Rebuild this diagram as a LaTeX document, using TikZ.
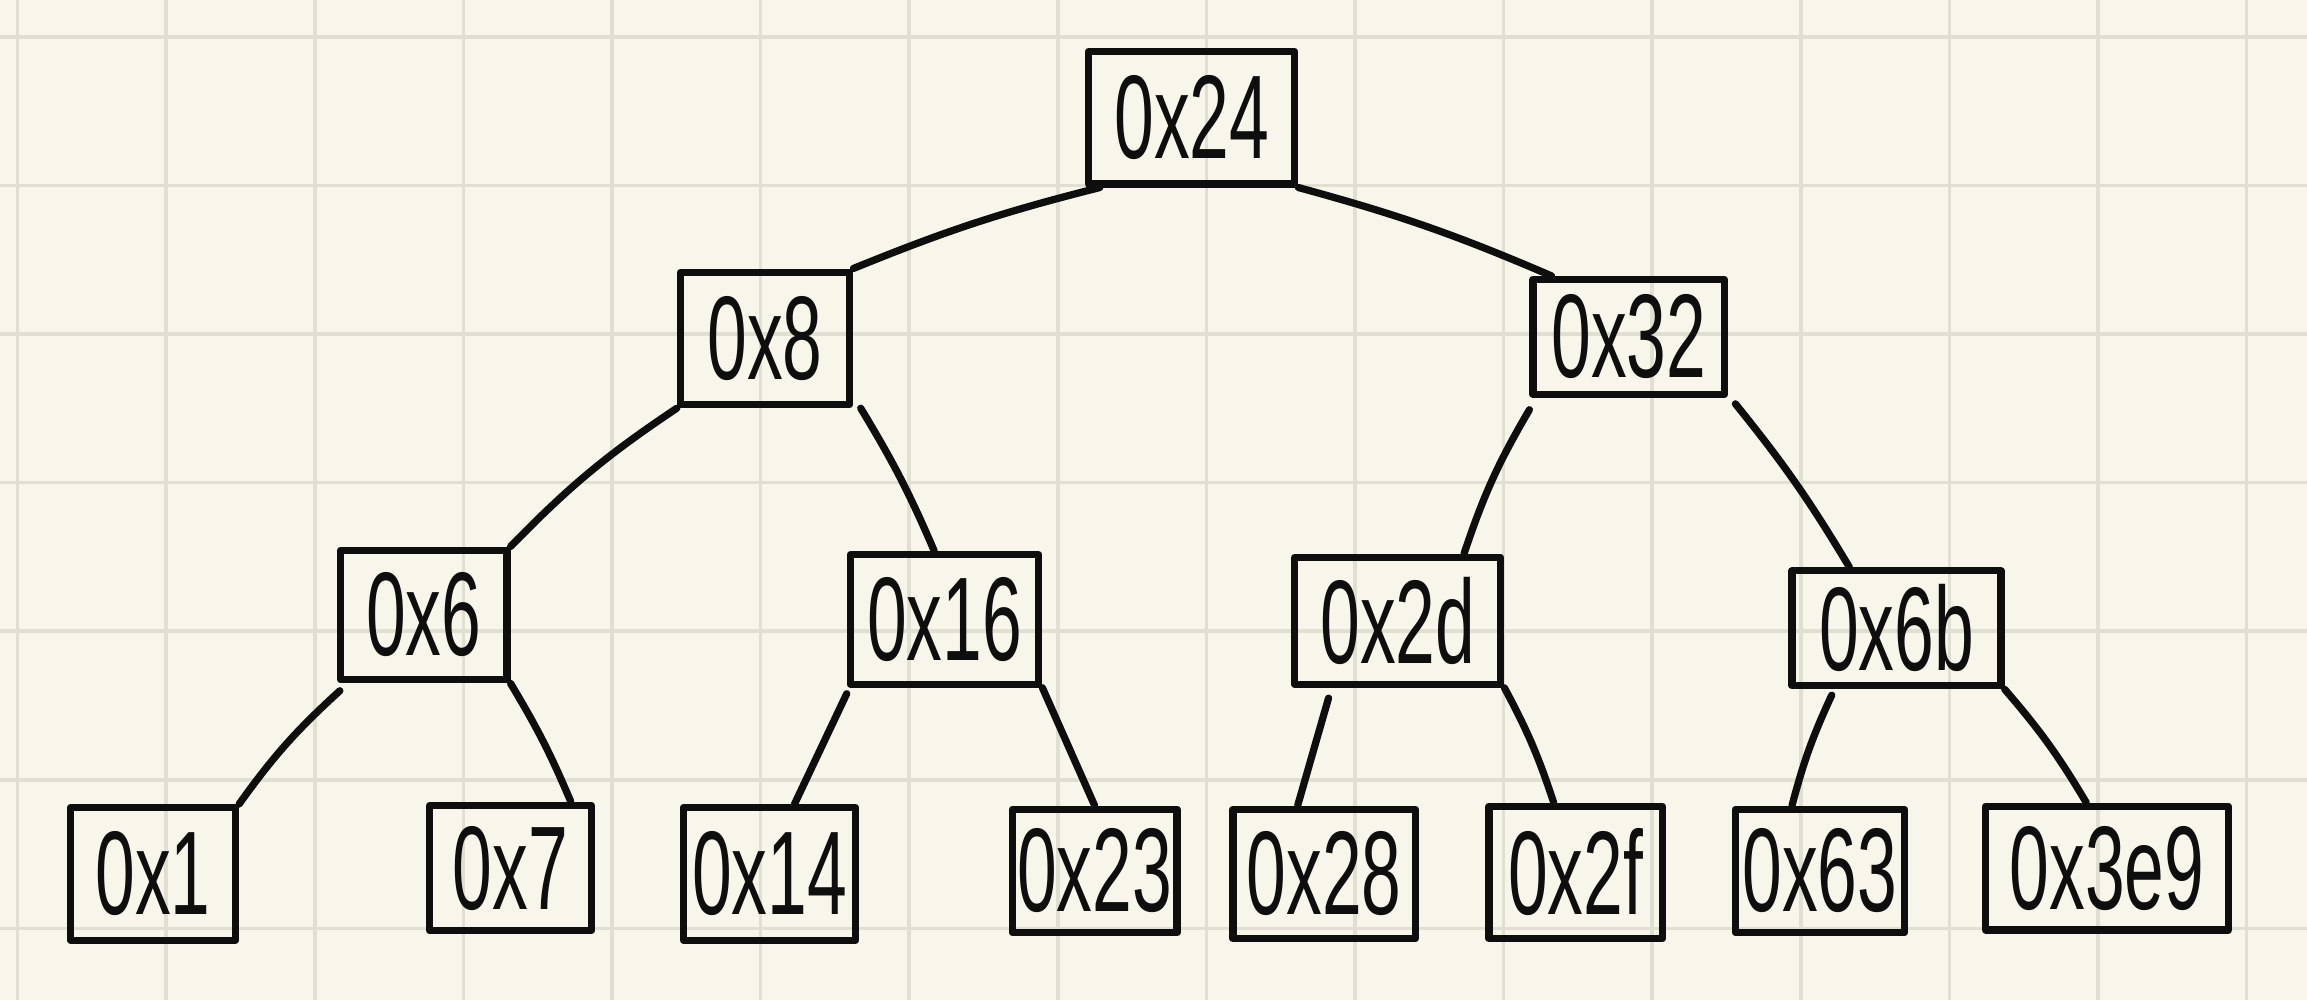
\documentclass[tikz,border=0pt]{standalone}
\usepackage{fontspec}
\setmainfont{Liberation Sans}
\usetikzlibrary{calc}
\definecolor{paper}{HTML}{F8F6EA}
\definecolor{gridc}{HTML}{E1DFD2}
\definecolor{ink}{HTML}{0E0E0E}
\newcommand{\hw}[1]{\scalebox{0.6}[1]{\fontsize{23}{23}\selectfont #1}}
\tikzset{
  hbox/.style={draw=ink, line width=1.4pt, inner sep=0pt, text=ink, line join=round},
  edge/.style={draw=ink, line width=1.4pt, line cap=round},
  gridline/.style={draw=gridc, line width=0.7pt}
}
\begin{document}
\begin{tikzpicture}[x=0.01cm, y=-0.01cm]
\useasboundingbox (0,0) rectangle (1568,680);
\fill[paper] (0,0) rectangle (1568,680);
\foreach \i in {0,...,15} { \draw[gridline] ({12+101*\i},0) -- ({12+101*\i},680); }
\foreach \j in {0,...,6} { \draw[gridline] (0,{25+101*\j}) -- (1568,{25+101*\j}); }

\node[hbox, minimum width=1.40cm, minimum height=0.90cm] (n24) at (810,80) {\hw{0x24}};
\node[hbox, minimum width=1.15cm, minimum height=0.90cm] (n8) at (520,230) {\hw{0x8}};
\node[hbox, minimum width=1.30cm, minimum height=0.78cm] (n32) at (1107,229) {\hw{0x32}};
\node[hbox, minimum width=1.13cm, minimum height=0.88cm] (n6) at (288,418) {\hw{0x6}};
\node[hbox, minimum width=1.28cm, minimum height=0.88cm] (n16) at (642,421) {\hw{0x16}};
\node[hbox, minimum width=1.40cm, minimum height=0.86cm] (n2d) at (950,422) {\hw{0x2d}};
\node[hbox, minimum width=1.42cm, minimum height=0.78cm] (n6b) at (1289,427) {\hw{0x6b}};
\node[hbox, minimum width=1.12cm, minimum height=0.90cm] (n1) at (104,594) {\hw{0x1}};
\node[hbox, minimum width=1.10cm, minimum height=0.85cm] (n7) at (347,590) {\hw{0x7}};
\node[hbox, minimum width=1.17cm, minimum height=0.90cm] (n14) at (523,594) {\hw{0x14}};
\node[hbox, minimum width=1.12cm, minimum height=0.84cm] (n23) at (744,592) {\hw{0x23}};
\node[hbox, minimum width=1.24cm, minimum height=0.88cm] (n28) at (900,594) {\hw{0x28}};
\node[hbox, minimum width=1.18cm, minimum height=0.90cm] (n2f) at (1071,593) {\hw{0x2f}};
\node[hbox, minimum width=1.15cm, minimum height=0.84cm] (n63) at (1237,592) {\hw{0x63}};
\node[hbox, minimum width=1.65cm, minimum height=0.84cm] (n3e9) at (1432,590) {\hw{0x3e9}};

\draw[edge] ([xshift=0.1cm]n24.south west) to[bend right=4] (n8.north east);
\draw[edge] (n24.south east) to[bend left=4] ([xshift=0.15cm]n32.north west);
\draw[edge] (n8.south west) to[bend right=6] (n6.north east);
\draw[edge] ([xshift=0.05cm]n8.south east) to[bend left=4] ([xshift=-0.07cm]n16.north);
\draw[edge] ([yshift=-0.08cm]n32.south west) to[bend right=6] ([xshift=0.45cm]n2d.north);
\draw[edge] ([xshift=0.05cm,yshift=-0.04cm]n32.south east) to[bend left=4] ([xshift=-0.32cm]n6b.north);
\draw[edge] ([xshift=0.02cm,yshift=-0.05cm]n6.south west) to[bend right=6] (n1.north east);
\draw[edge] (n6.south east) to[bend left=4] ([xshift=0.41cm]n7.north);
\draw[edge] ([yshift=-0.04cm]n16.south west) -- ([xshift=0.17cm]n14.north);
\draw[edge] (n16.south east) -- (n23.north);
\draw[edge] ([xshift=-0.47cm,yshift=-0.07cm]n2d.south) -- ([xshift=-0.18cm]n28.north);
\draw[edge] (n2d.south east) to[bend left=5] ([xshift=-0.15cm]n2f.north);
\draw[edge] ([xshift=-0.44cm,yshift=-0.04cm]n6b.south) to[bend right=5] ([xshift=-0.19cm]n63.north);
\draw[edge] (n6b.south east) to[bend left=5] ([xshift=-0.14cm]n3e9.north);
\end{tikzpicture}
\end{document}
